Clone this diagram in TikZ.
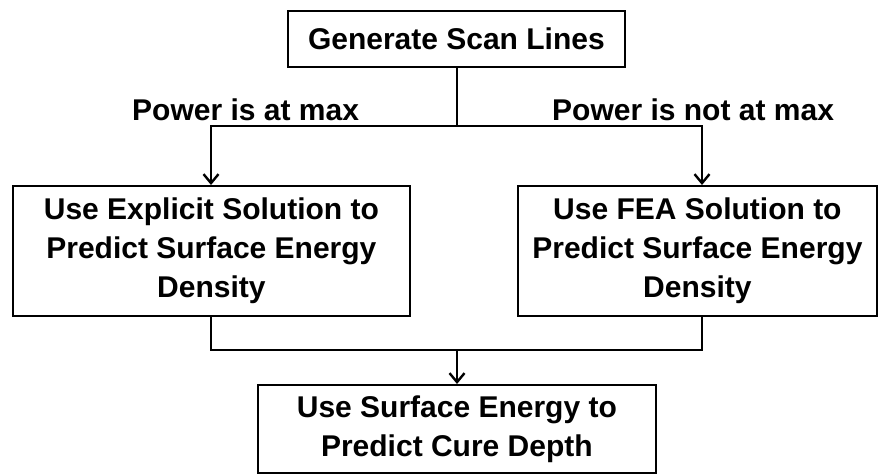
\documentclass[tikz,border=0pt]{standalone}
\usepackage{fontspec}
\setmainfont{Liberation Sans}
\usetikzlibrary{arrows.meta}
\begin{document}
\begin{tikzpicture}[x=1pt,y=-1pt,
  box/.style={draw, line width=1.8pt, font=\bfseries\fontsize{30}{39}\selectfont, align=center, inner sep=0pt, anchor=north west},
  conn/.style={line width=2.2pt},
  arr/.style={conn, -{Straight Barb[length=9pt,width=15pt,line width=2.4pt]}},
  lbl/.style={font=\bfseries\fontsize{30}{36}\selectfont, inner sep=0pt, anchor=base west}]
\useasboundingbox (0,0) rectangle (878,476);
\node[box, minimum width=337pt, minimum height=56pt] (gen) at (287,10) {Generate Scan Lines};
\node[box, minimum width=397pt, minimum height=130pt] (expl) at (12,185) {Use Explicit Solution to\\Predict Surface Energy\\Density};
\node[box, minimum width=359pt, minimum height=130pt] (fea) at (517,185) {Use FEA Solution to\\Predict Surface Energy\\Density};
\node[box, minimum width=398pt, minimum height=88pt] (cure) at (257,384) {Use Surface Energy to\\Predict Cure Depth};
\coordinate (split) at (457,126);
\coordinate (join) at (457,350);
\node[lbl] (l1) at (132,121) {Power is at max};
\node[lbl] (l2) at (552,121) {Power is not at max};
\draw[conn] (gen.south -| split) -- (split);
\draw[arr] (split) -- (211,126) -- (211,185 |- expl.north);
\draw[arr] (split) -- (702,126) -- (702,185 |- fea.north);
\draw[conn] (expl.south -| 211,0) -- (211,350) -- (702,350) -- (fea.south -| 702,0);
\draw[arr] (join) -- (cure.north -| join);
\end{tikzpicture}
\end{document}
